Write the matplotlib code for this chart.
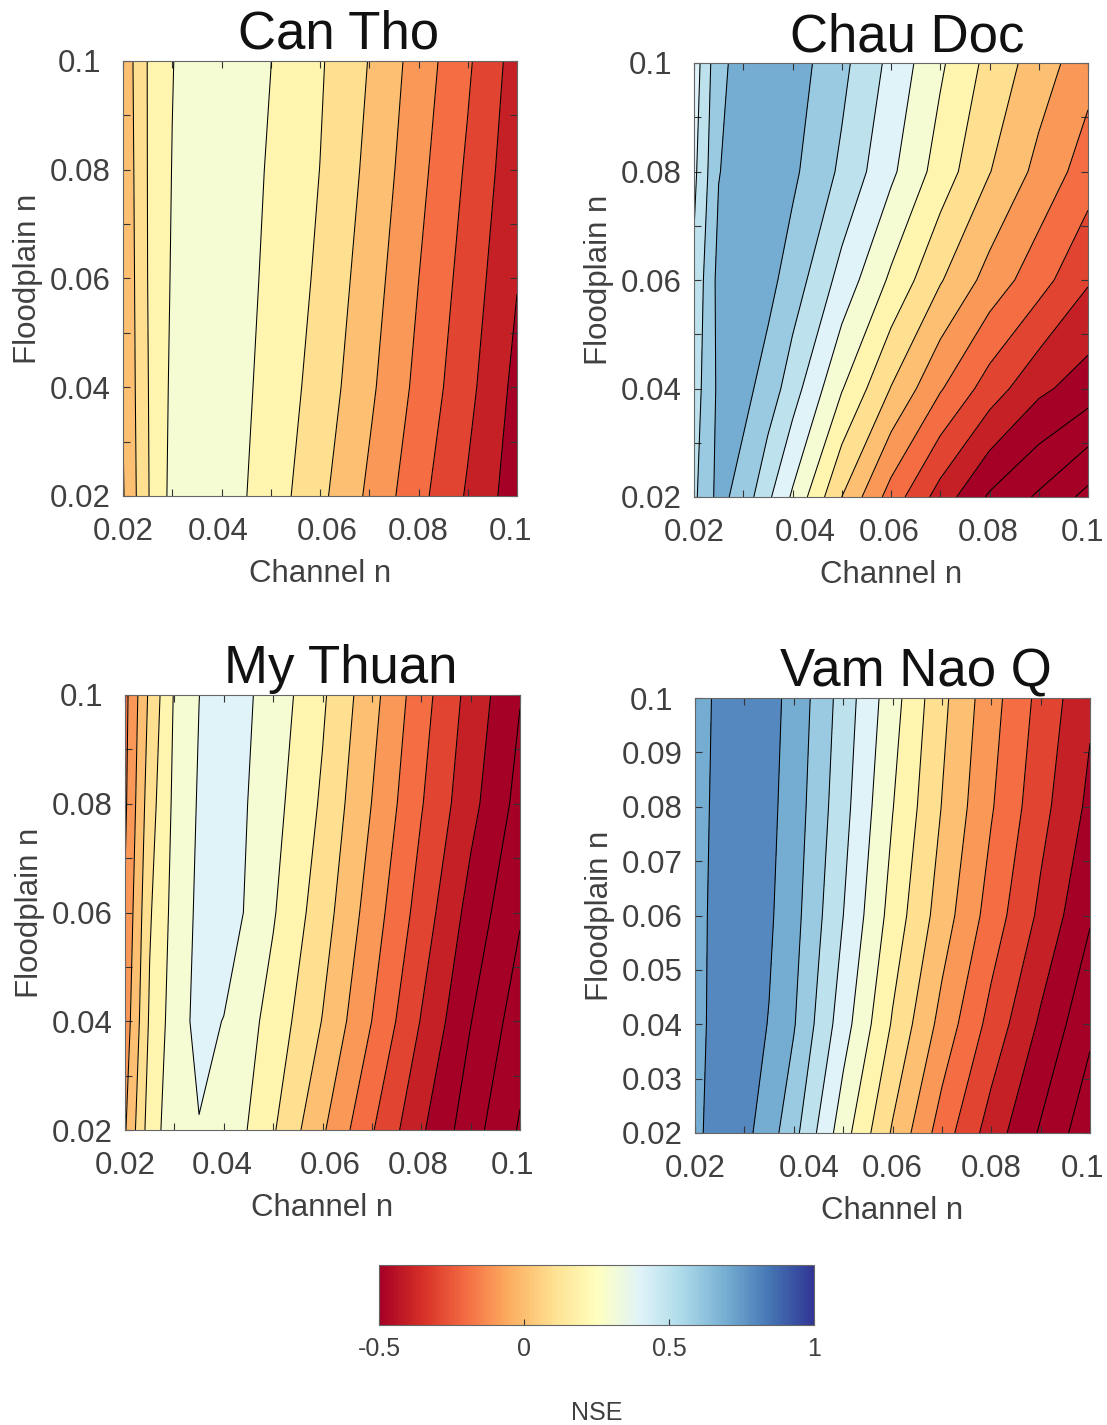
import numpy as np
import matplotlib
matplotlib.use("Agg")
import matplotlib.pyplot as plt
from matplotlib.colors import Normalize
from matplotlib.cm import ScalarMappable
from matplotlib.transforms import ScaledTranslation

plt.rcParams['font.family'] = ['Liberation Sans', 'DejaVu Sans']
plt.rcParams['axes.unicode_minus'] = False

# ---------------- data (NSE) ----------------
channel_n = [0.02, 0.025, 0.03, 0.035, 0.04, 0.05, 0.06, 0.07, 0.08, 0.09, 0.1]
floodplain_n = [0.02, 0.04, 0.06, 0.08, 0.1]

nse_can_tho = [
    [-0.008, 0.192, 0.33, 0.36, 0.35, 0.253, 0.125, -0.019, -0.169, -0.312, -0.456],
    [0.005, 0.196, 0.32, 0.36, 0.355, 0.269, 0.159, 0.021, -0.127, -0.271, -0.43],
    [0.012, 0.20, 0.31, 0.36, 0.36, 0.281, 0.182, 0.049, -0.099, -0.243, -0.395],
    [0.02, 0.202, 0.303, 0.36, 0.36, 0.291, 0.199, 0.076, -0.07, -0.215, -0.366],
    [0.03, 0.203, 0.296, 0.36, 0.37, 0.301, 0.211, 0.096, -0.044, -0.185, -0.344],
]
nse_chau_doc = [
    [0.58, 0.73, 0.66, 0.52, 0.386, 0.10, -0.143, -0.343, -0.514, -0.615, -0.73],
    [0.55, 0.72, 0.73, 0.66, 0.546, 0.307, 0.096, -0.09, -0.247, -0.378, -0.449],
    [0.52, 0.73, 0.76, 0.73, 0.656, 0.464, 0.282, 0.109, -0.038, -0.159, -0.29],
    [0.476, 0.696, 0.75, 0.76, 0.72, 0.581, 0.42, 0.256, 0.104, -0.029, -0.15],
    [0.443, 0.674, 0.74, 0.76, 0.75, 0.627, 0.473, 0.316, 0.169, 0.051, -0.062],
]
nse_my_thuan = [
    [-0.01, 0.25, 0.36, 0.395, 0.38, 0.211, 0.014, -0.191, -0.385, -0.557, -0.711],
    [-0.059, 0.214, 0.349, 0.43, 0.397, 0.263, 0.096, -0.101, -0.306, -0.497, -0.653],
    [-0.09, 0.189, 0.335, 0.42, 0.46, 0.309, 0.146, -0.048, -0.243, -0.436, -0.59],
    [-0.118, 0.156, 0.322, 0.41, 0.46, 0.336, 0.185, -0.002, -0.193, -0.369, -0.535],
    [-0.131, 0.121, 0.309, 0.399, 0.46, 0.36, 0.215, 0.034, -0.158, -0.335, -0.495],
]
nse_vam_nao = [
    [0.78, 0.84, 0.83, 0.744, 0.633, 0.343, 0.088, -0.148, -0.347, -0.512, -0.667],
    [0.77, 0.835, 0.845, 0.796, 0.708, 0.445, 0.19, -0.034, -0.235, -0.416, -0.578],
    [0.77, 0.83, 0.845, 0.815, 0.736, 0.501, 0.26, 0.051, -0.144, -0.322, -0.49],
    [0.765, 0.825, 0.845, 0.825, 0.755, 0.535, 0.304, 0.097, -0.091, -0.266, -0.424],
    [0.76, 0.82, 0.84, 0.83, 0.771, 0.558, 0.341, 0.126, -0.061, -0.231, -0.383],
]

stations = ['Can Tho', 'Chau Doc', 'My Thuan', 'Vam Nao Q']
station_nse = [nse_can_tho, nse_chau_doc, nse_my_thuan, nse_vam_nao]

x_ticks = [0.02, 0.04, 0.06, 0.08, 0.1]
x_ticklabels = ['0.02', '0.04', '0.06', '0.08', '0.1']
y_ticks_even = [0.02, 0.04, 0.06, 0.08, 0.1]
y_ticklabels_even = ['0.02', '0.04', '0.06', '0.08', '0.1']
y_ticks_all = [0.02, 0.03, 0.04, 0.05, 0.06, 0.07, 0.08, 0.09, 0.1]
y_ticklabels_all = ['0.02', '0.03', '0.04', '0.05', '0.06', '0.07', '0.08', '0.09', '0.1']
minor_ticks = [0.02, 0.03, 0.04, 0.05, 0.06, 0.07, 0.08, 0.09, 0.1]

cbar_ticks = [-0.5, 0, 0.5, 1]
cbar_ticklabels = ['-0.5', '0', '0.5', '1']
levels = np.round(np.arange(-1.0, 1.01, 0.1), 2)

# ---------------- layout ----------------
W, H = 1107, 1425
fig = plt.figure(figsize=(W / 100, H / 100), dpi=100)

# pixel boxes: left, top, right, bottom
boxes = [(123, 61, 517, 496), (694, 63, 1088, 497),
         (125, 695, 520, 1130), (695, 698, 1090, 1133)]
title_dx = [19, 16, 18, 23]
# small horizontal nudges (px) of the x tick labels, as placed in the original
xlabel_nudge = [[0, -3, 7, 0, -6], [0, 13, -2, -1, -5],
                [0, -2, 8, -3, -7], [0, 15, 0, 0, -7]]

cmap = plt.get_cmap('RdYlBu')
norm = Normalize(vmin=-0.5, vmax=1.0)
band_colors = [cmap(norm(max(lv, -0.5))) for lv in levels[:-1]]

TXT = '#404040'
X, Y = np.meshgrid(channel_n, floodplain_n)

for i, (name, z) in enumerate(zip(stations, station_nse)):
    l, t, r, b = boxes[i]
    ax = fig.add_axes([l / W, 1 - b / H, (r - l) / W, (b - t) / H])
    Z = np.array(z)
    ax.contourf(X, Y, Z, levels=levels, colors=band_colors)
    ax.contour(X, Y, Z, levels=levels, colors='k', linewidths=0.75,
               linestyles='solid', negative_linestyles='solid')
    ax.set_xlim(0.02, 0.1)
    ax.set_ylim(0.02, 0.1)

    ax.set_xticks(x_ticks)
    ax.set_xticklabels(x_ticklabels)
    if name == 'Vam Nao Q':
        ax.set_yticks(y_ticks_all)
        ax.set_yticklabels(y_ticklabels_all)
    else:
        ax.set_yticks(y_ticks_even)
        ax.set_yticklabels(y_ticklabels_even)
    ax.set_xticks(minor_ticks, minor=True)
    ax.set_yticks(minor_ticks, minor=True)
    for which in ('major', 'minor'):
        ax.tick_params(axis='both', which=which, direction='in', length=5,
                       width=0.8, color='#333333', top=True, right=True)
    ax.tick_params(axis='x', which='major', labelsize=22.5, labelcolor=TXT, pad=15)
    ax.tick_params(axis='y', which='major', labelsize=22.5, labelcolor=TXT, pad=31)
    for lbl in ax.get_yticklabels():
        lbl.set_ha('center')
    for lbl, dx in zip(ax.get_xticklabels(), xlabel_nudge[i]):
        lbl.set_transform(lbl.get_transform() +
                          ScaledTranslation(dx / 100, 0, fig.dpi_scale_trans))
    for sp in ax.spines.values():
        sp.set_color('#666666')
        sp.set_linewidth(0.8)

    ax.set_xlabel('Channel n', fontsize=22.5, color=TXT)
    ax.set_ylabel('Floodplain n', fontsize=22.5, color=TXT)
    ax.xaxis.set_label_coords(0.5, -0.145)
    ax.yaxis.set_label_coords(-0.203, 0.5)

    ax.text(0.5 + title_dx[i] / (r - l), 1 + 12 / (b - t), name,
            transform=ax.transAxes, ha='center', va='baseline',
            fontsize=38, color='#111111')

# colorbar
cl, ct, cr, cbt = 379, 1265, 814, 1325
cax = fig.add_axes([cl / W, 1 - cbt / H, (cr - cl) / W, (cbt - ct) / H])
sm = ScalarMappable(norm=norm, cmap=cmap)
cb = fig.colorbar(sm, cax=cax, orientation='horizontal', ticks=cbar_ticks)
cb.set_ticklabels(cbar_ticklabels)
cb.ax.tick_params(direction='in', length=4, width=0.8, color='#333333',
                  labelsize=18, labelcolor=TXT, pad=9)
cb.outline.set_edgecolor('#666666')
cb.outline.set_linewidth(0.8)
cb.set_label('NSE', fontsize=18, color=TXT)
cb.ax.xaxis.set_label_coords(0.5, -1.27)

fig.savefig('out.png', dpi=100, facecolor='white')
